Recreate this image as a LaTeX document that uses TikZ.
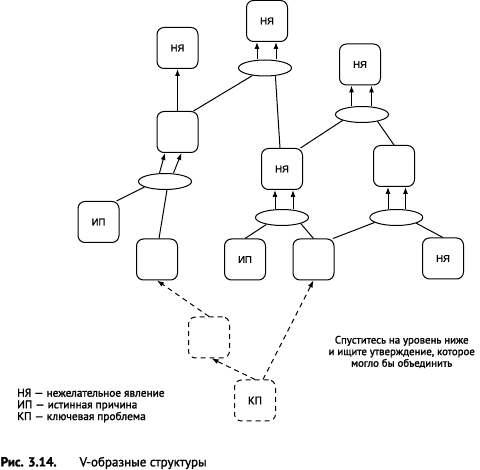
\documentclass[tikz,border=0pt]{standalone}
\usepackage{fontspec}
\setmainfont{PT Sans}
\newfontfamily\txtf{PT Sans}[FakeBold=1.6]
\newfontfamily\arialf{Liberation Sans}[FakeBold=1.2]
\usetikzlibrary{arrows.meta,shapes.geometric}
\begin{document}
\begin{tikzpicture}[x=1pt,y=-1pt,
  box/.style={draw, rounded corners=7pt, minimum width=41pt, minimum height=41pt, inner sep=0pt, line width=1pt, font=\arialf\fontsize{9.5}{10}\selectfont},
  dbox/.style={box, dash pattern=on 5pt off 4pt, font=\txtf\fontsize{11}{12}\selectfont},
  ell/.style={draw, ellipse, minimum width=53pt, minimum height=16pt, inner sep=0pt, line width=1pt},
  ln/.style={line width=1pt},
  arr/.style={line width=1pt, -{Latex[length=7pt,width=5pt]}},
  darr/.style={arr, dash pattern=on 5pt off 4pt},
  txt/.style={inner sep=0pt, font=\txtf\fontsize{10.8}{11.6}\selectfont}
]
\useasboundingbox (0,0) rectangle (480,470);

\node[box] (nyaTL) at (177.5,48) {НЯ};
\node[box] (nyaT) at (267,21) {НЯ};
\node[ell] (ellT) at (265,68) {};
\node[box] (bM) at (177.5,132) {};
\node[ell] (ellL) at (165,181.5) {};
\node[box] (ipL) at (98.5,222) {ИП};
\node[box] (bBL) at (157,259.5) {};
\node[box] (nyaM) at (282,169) {НЯ};
\node[ell] (ellM) at (282,217.5) {};
\node[box] (ipM) at (245,259.5) {ИП};
\node[box] (bB2) at (313.5,259.5) {};
\node[box] (nyaR) at (360,64.5) {НЯ};
\node[ell] (ellR) at (362,114.5) {};
\node[box] (bR) at (394,166) {};
\node[ell] (ellRB) at (396.3,217.5) {};
\node[box] (nyaRB) at (443,258.5) {НЯ};
\node[dbox] (dB) at (209,337.5) {};
\node[dbox] (kp) at (255,400.5) {КП};

% left branch
\draw[arr] (bM) -- (nyaTL);
\draw[ln] ([xshift=-5pt]bM.north east) -- (ellT);
\draw[arr] ([xshift=-5.5pt]ellL.north) -- ([xshift=-12.5pt]bM.south);
\draw[arr] ([xshift=8.5pt]ellL.north) -- ([xshift=4pt]bM.south);
\draw[ln] ([xshift=-3pt]ipL.north east) -- (ellL.195);
\draw[ln] ([xshift=2pt]bBL.north) -- ([xshift=2pt]ellL.south);

% top
\draw[arr] ([xshift=-10pt]nyaT.south |- ellT.north) -- ([xshift=-10pt]nyaT.south);
\draw[arr] ([xshift=9pt]nyaT.south |- ellT.north) -- ([xshift=9pt]nyaT.south);
\draw[ln] (ellT.-37) -- ([xshift=-2pt]nyaM.north);

% middle
\draw[arr] ([xshift=-7pt]nyaM.south |- ellM.north) -- ([xshift=-7pt]nyaM.south);
\draw[arr] ([xshift=11pt]nyaM.south |- ellM.north) -- ([xshift=11pt]nyaM.south);
\draw[ln] (ipM.north) -- (ellM.204);
\draw[ln] (bB2.north) -- (ellM.-18);

% right
\draw[arr] ([xshift=-8.5pt]nyaR.south |- ellR.north) -- ([xshift=-8.5pt]nyaR.south);
\draw[arr] ([xshift=11.5pt]nyaR.south |- ellR.north) -- ([xshift=11.5pt]nyaR.south);
\draw[ln] ([xshift=-2.5pt]nyaM.north east) -- (ellR.197);
\draw[ln] (ellR.-24) -- (bR.north);
\draw[arr] ([xshift=-6pt]bR.south |- ellRB.north) -- ([xshift=-6pt]bR.south);
\draw[arr] ([xshift=11.5pt]bR.south |- ellRB.north) -- ([xshift=11.5pt]bR.south);
\draw[ln] ([xshift=-1.5pt]bB2.north east) -- (ellRB.193);
\draw[ln] (ellRB.-16) -- (nyaRB.north);

% dashed
\draw[darr] (dB.north) -- (bBL.south);
\draw[darr] (kp.north) -- ([xshift=2.5pt]dB.south);
\draw[darr] ([xshift=8pt]kp.north) -- (bB2.south);

% texts
\node[txt, align=center] (note) at (401.7,352) {Спуститесь на уровень ниже\\и ищите утверждение, которое\\могло бы объединить};
\node[txt, align=left, anchor=west, font=\txtf\fontsize{11.3}{11.7}\selectfont] (legend) at (17,405.5) {НЯ — нежелательное явление\\ИП — истинная причина\\КП — ключевая проблема};
\node[inner sep=0pt, anchor=west, font=\txtf\fontsize{13}{14}\selectfont] (cap) at (0.5,463) {\textbf{Рис. 3.14.}\hspace{23pt}V-образные структуры};
\end{tikzpicture}
\end{document}
